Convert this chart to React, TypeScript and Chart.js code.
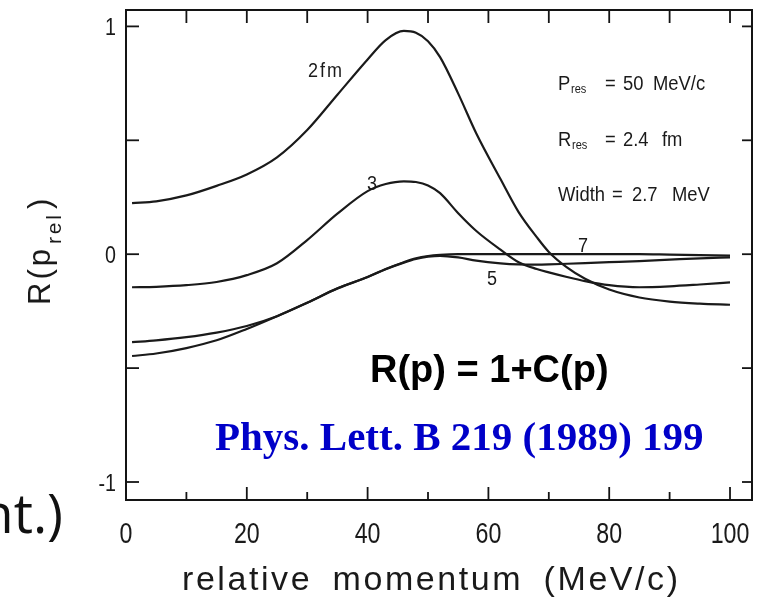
import React, { useEffect, useRef } from 'react';
import { Chart, registerables } from 'chart.js';

Chart.register(...registerables);

// ---- data ----
const momentum = [1, 5, 10, 15, 20, 25, 30, 35, 40, 43, 46, 48, 50, 52, 55, 58, 62, 65, 68, 70, 73, 76, 80, 85, 90, 95, 100];
const curve2fm = [0.224, 0.232, 0.258, 0.30, 0.35, 0.425, 0.545, 0.70, 0.855, 0.94, 0.98, 0.972, 0.935, 0.865, 0.705, 0.53, 0.33, 0.185, 0.075, 0.01, -0.058, -0.108, -0.155, -0.19, -0.208, -0.217, -0.222];
const curve3fm = [-0.145, -0.143, -0.136, -0.122, -0.092, -0.04, 0.062, 0.178, 0.277, 0.308, 0.32, 0.317, 0.302, 0.268, 0.18, 0.102, 0.02, -0.035, -0.065, -0.08, -0.1, -0.118, -0.136, -0.145, -0.141, -0.133, -0.124];
const curve5fm = [-0.386, -0.378, -0.364, -0.344, -0.315, -0.272, -0.213, -0.15, -0.1, -0.066, -0.037, -0.021, -0.011, -0.007, -0.014, -0.028, -0.04, -0.045, -0.046, -0.045, -0.042, -0.039, -0.035, -0.03, -0.024, -0.018, -0.014];
const curve7fm = [-0.447, -0.436, -0.412, -0.378, -0.328, -0.272, -0.213, -0.151, -0.1, -0.065, -0.035, -0.018, -0.008, -0.003, 0, 0, 0, 0, 0, 0, 0, 0, 0, 0, -0.002, -0.004, -0.006];
const curveLabels = ['2fm', '3', '5', '7'];
const xMajorTicks = [0, 20, 40, 60, 80, 100];
const xMinorTicks = [10, 30, 50, 70, 90];
const yMajorTicks = [-1, 0, 1];
const yMinorTicks = [-0.5, 0.5];
const xAxisTitle = 'relative momentum (MeV/c)';
const formulaText = 'R(p) = 1+C(p)';
const refText = 'Phys. Lett. B 219 (1989) 199';

const X_MIN = 0;
const X_MAX = 103.64;
const Y_MIN = -1.079;
const Y_MAX = 1.072;

const SANS = '"Liberation Sans", Arial, sans-serif';

// draw text horizontally compressed (narrow plot font look)
function narrowText(ctx: CanvasRenderingContext2D, text: string, x: number, y: number, sx: number, align: CanvasTextAlign = 'left') {
  ctx.save();
  ctx.translate(x, y);
  ctx.scale(sx, 1);
  ctx.textAlign = align;
  ctx.fillText(text, 0, 0);
  ctx.restore();
}

// draw text letter-spaced to a given total width, optionally compressed
function spacedText(ctx: CanvasRenderingContext2D, text: string, x: number, y: number, width: number, sx = 1) {
  const chars = Array.from(text);
  const w0 = ctx.measureText(text).width * sx;
  const ls = chars.length > 1 ? (width - w0) / (chars.length - 1) : 0;
  let cx = x;
  for (const ch of chars) {
    narrowText(ctx, ch, cx, y, sx);
    cx += ctx.measureText(ch).width * sx + ls;
  }
}

// words with a fixed word gap, letters spaced so the whole fits the width
function spacedWords(ctx: CanvasRenderingContext2D, text: string, x: number, y: number, width: number, gap: number) {
  const words = text.split(' ');
  const natural = words.reduce((s, w) => s + ctx.measureText(w).width, 0);
  const inner = words.reduce((s, w) => s + Array.from(w).length - 1, 0);
  const ls = (width - natural - gap * (words.length - 1)) / inner;
  let cx = x;
  for (const w of words) {
    const ww = ctx.measureText(w).width + ls * (Array.from(w).length - 1);
    spacedText(ctx, w, cx, y, ww, 1);
    cx += ww + gap;
  }
}

const decorPlugin = {
  id: 'decor',
  afterDraw(chart: any) {
    const { ctx, chartArea: a, scales } = chart;
    const xs = scales.x;
    const ys = scales.y;
    ctx.save();
    // frame
    ctx.strokeStyle = '#141414';
    ctx.lineWidth = 2;
    ctx.strokeRect(a.left, a.top, a.right - a.left, a.bottom - a.top);
    ctx.lineWidth = 1.8;
    const seg = (x1: number, y1: number, x2: number, y2: number) => {
      ctx.beginPath();
      ctx.moveTo(x1, y1);
      ctx.lineTo(x2, y2);
      ctx.stroke();
    };
    [...yMajorTicks, ...yMinorTicks].forEach((v) => {
      const py = ys.getPixelForValue(v);
      seg(a.left, py, a.left + 13, py);
      seg(a.right - 10, py, a.right, py);
    });
    xMajorTicks.forEach((v) => {
      const px = xs.getPixelForValue(v);
      seg(px, a.bottom, px, a.bottom - 13);
      if (v > 0) seg(px, a.top, px, a.top + 13);
    });
    xMinorTicks.forEach((v) => {
      const px = xs.getPixelForValue(v);
      seg(px, a.bottom, px, a.bottom - 8);
      seg(px, a.top, px, a.top + 13);
    });

    ctx.fillStyle = '#1a1a1a';
    ctx.textBaseline = 'alphabetic';

    // tick labels
    ctx.font = `29px ${SANS}`;
    xMajorTicks.forEach((v) => {
      narrowText(ctx, String(v), xs.getPixelForValue(v), a.bottom + 43, 0.8, 'center');
    });
    ctx.font = `24px ${SANS}`;
    yMajorTicks.forEach((v) => {
      narrowText(ctx, String(v), a.left - 10, ys.getPixelForValue(v) + 8.5, 0.82, 'right');
    });

    // curve labels
    ctx.font = `20px ${SANS}`;
    spacedText(ctx, curveLabels[0], 308, 77, 34, 0.9);
    narrowText(ctx, curveLabels[1], 367, 190, 0.9);
    narrowText(ctx, curveLabels[2], 487, 285, 0.9);
    narrowText(ctx, curveLabels[3], 578, 252, 0.9);

    // parameter annotations
    const S = 0.92;
    const main = (t: string, x: number, y: number) => {
      ctx.font = `20px ${SANS}`;
      narrowText(ctx, t, x, y, S);
    };
    const sub = (t: string, x: number, y: number) => {
      ctx.font = `12px ${SANS}`;
      narrowText(ctx, t, x, y, S);
    };
    main('P', 558, 90);
    sub('res', 571, 93);
    main('=', 605, 90);
    main('50', 623, 90);
    main('MeV/c', 653, 90);

    main('R', 558, 146);
    sub('res', 572, 149);
    main('=', 605, 146);
    main('2.4', 623, 146);
    main('fm', 662, 146);

    main('Width', 558, 201);
    main('=', 612, 201);
    main('2.7', 632, 201);
    main('MeV', 672, 201);

    // axis titles
    ctx.font = `34px ${SANS}`;
    spacedWords(ctx, xAxisTitle, 182, 590, 496, 23);

    ctx.save();
    ctx.translate(50, 305);
    ctx.rotate(-Math.PI / 2);
    ctx.font = `31px ${SANS}`;
    spacedText(ctx, 'R(p', 0, 0, 56, 1);
    ctx.font = `21px ${SANS}`;
    spacedText(ctx, 'rel', 61, 11, 29, 1);
    ctx.font = `31px ${SANS}`;
    narrowText(ctx, ')', 96, 0, 1);
    ctx.restore();

    // slide overlay texts
    ctx.textAlign = 'left';
    ctx.fillStyle = '#000000';
    ctx.font = `bold 38px ${SANS}`;
    ctx.fillText(formulaText, 370, 382);
    ctx.fillStyle = '#0000c8';
    ctx.font = 'bold 41px "Liberation Serif", "Times New Roman", serif';
    ctx.fillText(refText, 215, 450);
    ctx.fillStyle = '#111111';
    ctx.font = '54px "Open Sans", "Noto Sans", sans-serif';
    ctx.textAlign = 'right';
    ctx.fillText('nt.)', 63, 533);
    ctx.restore();
  },
};

export default function App() {
  const ref = useRef<HTMLCanvasElement>(null);
  useEffect(() => {
    const canvas = ref.current;
    if (!canvas) return;
    const mk = (vals: number[]) => momentum.map((p, i) => ({ x: p, y: vals[i] }));
    const style = {
      borderColor: '#1a1a1a',
      borderWidth: 2.2,
      pointRadius: 0,
      fill: false,
      cubicInterpolationMode: 'monotone' as const,
    };
    const chart = new Chart(canvas, {
      type: 'line',
      data: {
        datasets: [
          { label: curveLabels[0], data: mk(curve2fm), ...style },
          { label: curveLabels[1], data: mk(curve3fm), ...style },
          { label: curveLabels[2], data: mk(curve5fm), ...style },
          { label: curveLabels[3], data: mk(curve7fm), ...style },
        ],
      },
      options: {
        animation: false,
        responsive: false,
        devicePixelRatio: 1,
        layout: { padding: { top: 10, right: 8, left: 0, bottom: 0 } },
        plugins: { legend: { display: false }, tooltip: { enabled: false } },
        scales: {
          x: {
            type: 'linear',
            min: X_MIN,
            max: X_MAX,
            grid: { display: false, drawTicks: false },
            border: { display: false },
            ticks: { stepSize: 10, includeBounds: false, display: false },
            afterFit: (s: any) => {
              s.height = 99;
              s.paddingLeft = 0;
              s.paddingRight = 0;
            },
          },
          y: {
            type: 'linear',
            min: Y_MIN,
            max: Y_MAX,
            grid: { display: false, drawTicks: false },
            border: { display: false },
            ticks: { stepSize: 0.5, includeBounds: false, display: false },
            afterFit: (s: any) => {
              s.width = 126;
              s.paddingTop = 0;
              s.paddingBottom = 0;
            },
          },
        },
      },
      plugins: [decorPlugin],
    });
    return () => chart.destroy();
  }, []);
  return (
    <div style={{ position: 'absolute', left: 0, top: 0, width: 760, height: 599, background: '#fff' }}>
      <canvas ref={ref} width={760} height={599} style={{ display: 'block', width: 760, height: 599 }} />
    </div>
  );
}
